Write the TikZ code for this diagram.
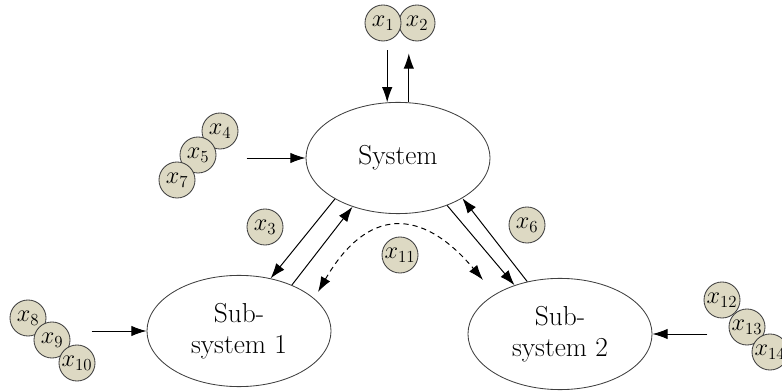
\documentclass[tikz,border=0pt]{standalone}
\usepackage{fontspec}
\usepackage{xcolor}
\usepackage{tikz}
\usetikzlibrary{calc,positioning,shapes.geometric,arrows.meta}
\definecolor{VarFill}{HTML}{DDD9C3}
\definecolor{VarEdge}{HTML}{3F3F3F}
\definecolor{SysEdge}{HTML}{404040}

\begin{document}
\begin{tikzpicture}[x=0.025cm,y=-0.025cm,
    sysnode/.style={ellipse,draw=SysEdge,line width=0.6pt,fill=white,minimum width=4.6cm,minimum height=2.78cm,inner sep=0pt,align=center,font=\fontsize{19.5}{22}\selectfont},
    varnode/.style={circle,draw=VarEdge,line width=0.6pt,fill=VarFill,minimum size=0.9cm,inner sep=0pt,font=\fontsize{17}{19}\selectfont},
    flow/.style={-{Latex[length=0.38cm,width=0.26cm]},line width=0.7pt},
    twoway/.style={{Latex[length=0.38cm,width=0.26cm]}-{Latex[length=0.38cm,width=0.26cm]},line width=0.7pt,dash pattern=on 0.13cm off 0.1cm}]
    \useasboundingbox (0,0) rectangle (782,392);
    \clip (0,0) rectangle (782,392);
    % subsystems
    \node[sysnode] (sys) at (398,158) {System};
    \node[sysnode] (sub1) at (239,331) {Sub-\\system 1};
    \node[sysnode] (sub2) at (560,334) {Sub-\\system 2};
    % variables
    \node[varnode] (x2) at (417,23) {$x_{2}$};
    \node[varnode] (x1) at (383,23) {$x_{1}$};
    \node[varnode] (x4) at (220,131) {$x_{4}$};
    \node[varnode] (x5) at (198,155) {$x_{5}$};
    \node[varnode] (x7) at (177,180) {$x_{7}$};
    \node[varnode] (x3) at (265,227) {$x_{3}$};
    \node[varnode] (x6) at (527,225) {$x_{6}$};
    \node[varnode] (x11) at (400,255) {$x_{11}$};
    \node[varnode] (x8) at (28,318) {$x_{8}$};
    \node[varnode] (x9) at (52,340) {$x_{9}$};
    \node[varnode] (x10) at (77,363) {$x_{10}$};
    \node[varnode] (x12) at (722,300) {$x_{12}$};
    \node[varnode] (x13) at (747,327) {$x_{13}$};
    \node[varnode] (x14) at (770,352) {$x_{14}$};
    % inputs and outputs
    \draw[flow] ($(x1.south -| sys.101)+(0,9)$) -- (sys.101);
    \draw[flow] (sys.79) -- ($(x2.south -| sys.79)+(0,12)$);
    \draw[flow] ($(sys.west)+(-59,0)$) -- (sys.west);
    \draw[flow] ($(sub1.west)+(-55,0)$) -- (sub1.west);
    \draw[flow] ($(sub2.east)+(55,0)$) -- (sub2.east);
    % couplings
    \draw[flow] (sys.213) -- (sub1.59);
    \draw[flow] (sub1.41) -- (sys.227);
    \draw[flow] (sys.316) -- (sub2.133);
    \draw[flow] (sub2.122) -- (sys.328);
    \coordinate (d1) at ($(sub1.center)+(79,-39)$);
    \coordinate (d2) at ($(sub2.center)+(-77,-54)$);
    \draw[twoway] (d1) to[out=60,in=130,looseness=1.5] (d2);
\end{tikzpicture}
\end{document}
